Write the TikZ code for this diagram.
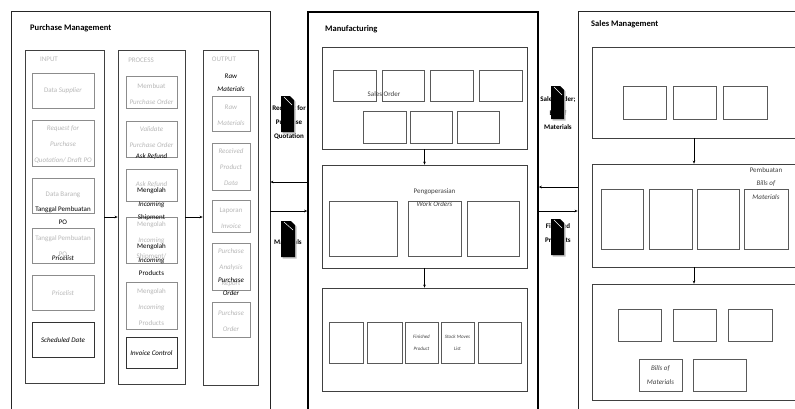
\documentclass[tikz,border=0pt]{standalone}
\usepackage{fontspec}
\setmainfont{Carlito}
\usetikzlibrary{fit,arrows.meta}
\newcommand\bx[6]{\node[#1, fit={(#3,#4) (#5,#6)}, inner sep=0pt] (#2) {};}
\newcommand\docicon[5]{%
  \fill[black!25] (#2+1.5,#3+1.5) -- (#4+1.5-4,#3+1.5) -- (#4+1.5,#3+5.5) -- (#4+1.5,#5+1.5) -- (#2+1.5,#5+1.5) -- cycle;
  \fill[black] (#2,#3) -- (#4-4,#3) -- (#4,#3+4) -- (#4,#5) -- (#2,#5) -- cycle;
  \draw[white, line width=0.5pt] (#2+3,#3+1) -- (#4-2,#3+9);
  \coordinate (#1) at ({(#2+#4)/2},{(#3+#5)/2});}
\begin{document}
\begin{tikzpicture}[x=1pt,y=-1pt,
  container/.style={draw=black!85, line width=0.8pt},
  mcontainer/.style={draw=black, line width=1.7pt},
  panel/.style={draw=black!75, line width=0.7pt},
  gbox/.style={draw=black!45, line width=0.6pt},
  kbox/.style={draw=black!80, line width=0.7pt},
  mbox/.style={draw=black!65, line width=0.6pt},
  gtxt/.style={text=black!28, font=\fontsize{7}{16}\selectfont, align=center, inner sep=0pt},
  ktxt/.style={text=black, font=\fontsize{7}{13.5}\selectfont, align=center, inner sep=0pt},
  mtxt/.style={text=black!75, font=\fontsize{7}{13.5}\selectfont, align=center, inner sep=0pt},
  stxt/.style={text=black!75, font=\fontsize{5}{12}\selectfont, align=center, inner sep=0pt},
  dtxt/.style={text=black, font=\bfseries\fontsize{7}{14}\selectfont, align=center, inner sep=0pt},
  ttl/.style={font=\bfseries\fontsize{8.5}{10}\selectfont, anchor=west, inner sep=0pt},
  arr/.style={-{Stealth[length=3pt,width=2.6pt]}, line width=0.6pt}]
\useasboundingbox (0,0) rectangle (795,408);
\fill[white] (0,0) rectangle (795,408);

% ---------------- containers
\bx{container}{pm}{11}{11}{270}{430}
\bx{mcontainer}{mfg}{308}{12}{538}{430}
\bx{container}{sm}{578}{11}{805}{430}
\node[ttl] (tpm) at (30,28) {Purchase Management};
\node[ttl] (tmfg) at (325,29) {Manufacturing};
\node[ttl] (tsm) at (591,24) {Sales Management};

% ---------------- Purchase management columns
\bx{panel}{incol}{25}{50}{104}{383}
\bx{panel}{proccol}{118}{50}{185}{384}
\bx{panel}{outcol}{203}{50}{258}{385}
\node[gtxt] (lin) at (49,59) {INPUT};
\node[gtxt] (lproc) at (141,60) {PROCESS};
\node[gtxt] (lout) at (224,59) {OUTPUT};

% input boxes
\bx{gbox}{dsup}{32}{73}{94}{108}
\bx{gbox}{rfq}{32}{120}{94}{166}
\bx{gbox}{dbar}{32}{178}{94}{213}
\bx{gbox}{tpo}{32}{228}{94}{263}
\bx{gbox}{pl}{32}{275}{94}{310}
\bx{kbox}{sd}{32}{322}{94}{357}
% process boxes
\bx{gbox}{mpo}{126}{76}{177}{108}
\bx{gbox}{vpo}{126}{121}{177}{157}
\bx{gbox}{ar}{126}{169}{177}{201}
\bx{gbox}{mis}{126}{217}{177}{263}
\bx{gbox}{mip}{126}{282}{177}{329}
\bx{kbox}{ic}{126}{337}{177}{368}
% output boxes
\bx{gbox}{rm}{212}{96}{250}{131}
\bx{gbox}{rpd}{212}{143}{250}{190}
\bx{gbox}{li}{212}{200}{250}{232}
\bx{gbox}{par}{212}{243}{250}{290}
\bx{gbox}{po}{212}{302}{250}{337}

% gray texts
\node[gtxt] (t1) at (63,91) {Data \textit{Supplier}};
\node[gtxt] (t2) at (63,145) {\textit{Request for}\\\textit{Purchase}\\\textit{Quotation/ Draft PO}};
\node[gtxt] (t3) at (63,195) {Data Barang};
\node[gtxt] (t4) at (63,246) {Tanggal Pembuatan\\PO};
\node[gtxt] (t5) at (63,293) {\textit{Pricelist}};
\node[gtxt] (t6) at (151.5,94) {Membuat\\\textit{Purchase Order}};
\node[gtxt] (t7) at (151.5,137) {\textit{Validate}\\\textit{Purchase Order}};
\node[gtxt] (t8) at (151.5,184) {\textit{Ask Refund}};
\node[gtxt] (t9) at (151.5,241) {Mengolah\\\textit{Incoming}\\Shipment/};
\node[gtxt] (t10) at (151.5,307) {Mengolah\\\textit{Incoming}\\Products};
\node[gtxt] (t11) at (231,115) {\textit{Raw}\\\textit{Materials}};
\node[gtxt] (t12) at (231,167.5) {\textit{Received}\\\textit{Product}\\\textit{Data}};
\node[gtxt] (t13) at (231,218.5) {Laporan\\\textit{Invoice}};
\node[gtxt] (t14) at (231,268) {\textit{Purchase}\\\textit{Analysis}\\\textit{Report}};
\node[gtxt] (t15) at (231,321) {\textit{Purchase}\\\textit{Order}};

% black texts
\node[ktxt] (k1) at (231,83) {\textit{Raw}\\\textit{Materials}};
\node[ktxt] (k2) at (63,215.5) {Tanggal Pembuatan\\PO};
\node[ktxt] (k3) at (63,258) {\textit{Pricelist}};
\node[ktxt] (k4) at (63,340) {\textit{Scheduled Date}};
\node[ktxt] (k5) at (151.5,156) {\textit{Ask Refund}};
\node[ktxt] (k6) at (151.5,204.5) {Mengolah\\\textit{Incoming}\\Shipment};
\node[ktxt] (k7) at (151.5,260) {Mengolah\\\textit{Incoming}\\Products};
\node[ktxt] (k8) at (151.5,353) {\textit{Invoice Control}};
\node[ktxt] (k9) at (231,286.5) {\textit{Purchase}\\\textit{Order}};

\coordinate (ay) at (0,217);
\draw[arr] (incol.east |- ay) -- (proccol.west |- ay);
\draw[arr] (proccol.east |- ay) -- (outcol.west |- ay);

% ---------------- Manufacturing
\bx{panel}{m1}{322}{47}{527}{149}
\bx{panel}{m2}{322}{165}{527}{268}
\bx{panel}{m3}{322}{288}{527}{391}
\bx{mbox}{m1a}{333}{70}{376}{101}
\bx{mbox}{m1b}{382}{70}{424}{101}
\bx{mbox}{m1c}{430}{70}{473}{101}
\bx{mbox}{m1d}{479}{70}{522}{101}
\bx{mbox}{m1e}{363}{111}{406}{143}
\bx{mbox}{m1f}{410}{111}{452}{143}
\bx{mbox}{m1g}{457}{111}{499}{143}
\node[mtxt] (so) at (384,94) {Sales Order};
\bx{mbox}{m2a}{329}{201}{397}{256}
\bx{mbox}{m2b}{408}{201}{461}{256}
\bx{mbox}{m2c}{467}{201}{519}{256}
\node[mtxt] (wo) at (434.5,197.5) {Pengoperasian\\\textit{Work Orders}};
\bx{mbox}{m3a}{329}{322}{363}{363}
\bx{mbox}{m3b}{367}{322}{402}{363}
\bx{mbox}{m3c}{405}{322}{438}{363}
\bx{mbox}{m3d}{441}{322}{474}{363}
\bx{mbox}{m3e}{478}{322}{521}{363}
\node[stxt] (fp) at (m3c) {\textit{Finished}\\\textit{Product}};
\node[stxt] (sml) at (m3d) {\textit{Stock Moves}\\\textit{List}};
\draw[arr] (m1.south) -- (m2.north);
\draw[arr] (m2.south) -- (m3.north);

% ---------------- Sales management
\bx{panel}{s1}{592}{47}{797}{138}
\bx{panel}{s2}{592}{164}{797}{267}
\bx{panel}{s3}{592}{284}{797}{400}
\bx{mbox}{s1a}{623}{86}{666}{119}
\bx{mbox}{s1b}{673}{86}{716}{119}
\bx{mbox}{s1c}{723}{86}{767}{119}
\bx{mbox}{s2a}{601}{189}{643}{249}
\bx{mbox}{s2b}{649}{189}{692}{249}
\bx{mbox}{s2c}{697}{189}{739}{249}
\bx{mbox}{s2d}{744}{189}{788}{249}
\node[mtxt] (pbom) at (766,183.5) {Pembuatan\\\textit{Bills of}\\\textit{Materials}};
\bx{mbox}{s3a}{618}{309}{661}{341}
\bx{mbox}{s3b}{673}{309}{716}{341}
\bx{mbox}{s3c}{728}{309}{772}{341}
\bx{mbox}{s3d}{639}{359}{682}{391}
\bx{mbox}{s3e}{693}{359}{746}{391}
\node[mtxt] (bom) at (s3d) {\textit{Bills of}\\\textit{Materials}};
\draw[arr] (s1.south -| 694,0) -- (s2.north -| 694,0);
\draw[arr] (s2.south -| 694,0) -- (s3.north -| 694,0);

% ---------------- connections between departments
\coordinate (y1) at (0,182);
\coordinate (y2) at (0,211);
\coordinate (y3) at (0,187);
\draw[arr] (mfg.west |- y1) -- (pm.east |- y1);
\draw[arr] (pm.east |- y2) -- (mfg.west |- y2);
\draw[arr] (sm.west |- y3) -- (mfg.east |- y3);
\draw[arr] (mfg.east |- y2) -- (sm.west |- y2);

% document labels
\node[dtxt] (drfq) at (289,122.5) {Request for\\Purchase\\Quotation};
\node[dtxt] (dmat) at (288,242) {Materials};
\node[dtxt] (dso) at (558,113) {Sales Order;\\Bill of\\Materials};
\node[dtxt] (dfp) at (558,233.5) {Finished\\Products};
\docicon{doc1}{281}{96}{294}{132}
\docicon{doc2}{281}{221}{295}{257}
\docicon{doc3}{551}{86}{564}{119}
\docicon{doc4}{551}{219}{564}{255}
\end{tikzpicture}
\end{document}
